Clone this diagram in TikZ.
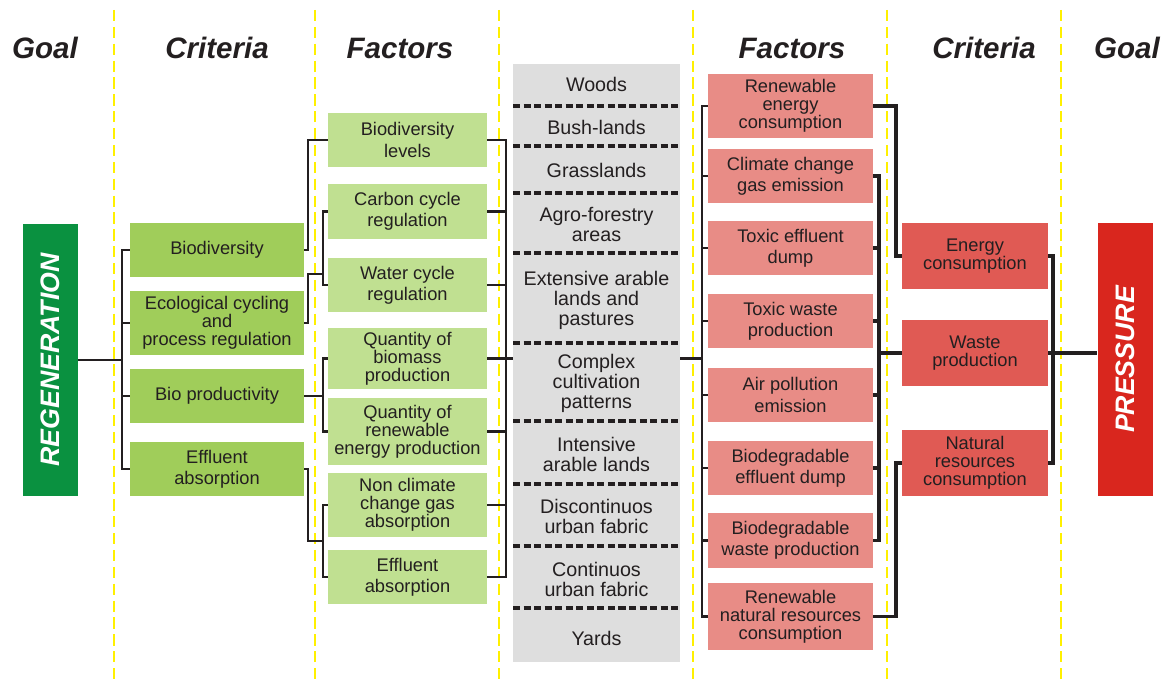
\documentclass[tikz,border=0pt]{standalone}
\usepackage{fontspec}
\setmainfont{Liberation Sans}
\usepackage{xcolor}
\usepackage{graphicx}
\usepackage{tikz}
\definecolor{goalgreen}{RGB}{10,145,64}
\definecolor{critgreen}{RGB}{160,205,90}
\definecolor{facgreen}{RGB}{192,224,145}
\definecolor{landgray}{RGB}{222,222,222}
\definecolor{facred}{RGB}{232,140,134}
\definecolor{critred}{RGB}{224,90,84}
\definecolor{goalred}{RGB}{217,38,30}
\definecolor{inkgray}{RGB}{35,31,32}
\definecolor{guideyellow}{RGB}{255,240,0}

\begin{document}
\begin{tikzpicture}[
    x=0.025cm, y=-0.025cm,
    every node/.style={inner sep=1pt, align=center, text=inkgray, font=\fontsize{13}{15}\selectfont},
    tight/.style={font=\fontsize{13}{12.8}\selectfont},
    head/.style={font=\fontsize{21}{24}\selectfont\bfseries\itshape},
    goal/.style={minimum width=1.375cm, minimum height=6.8cm, text=white, font=\fontsize{19}{22}\selectfont\bfseries\itshape},
    lcrit/.style={fill=critgreen, minimum width=4.35cm, minimum height=1.35cm},
    lfac/.style={fill=facgreen, minimum width=3.975cm, minimum height=1.35cm},
    land/.style={font=\fontsize{14}{14.2}\selectfont},
    rfac/.style={fill=facred, minimum width=4.125cm, minimum height=1.35cm},
    rcrit/.style={fill=critred, minimum width=3.65cm, minimum height=1.65cm},
    guide/.style={draw=guideyellow, line width=2pt, dash pattern=on 8pt off 4pt},
    sep/.style={draw=inkgray, line width=2.4pt, dash pattern=on 5pt off 2.5pt},
    link/.style={draw=inkgray, line width=1.8pt},
    tlink/.style={draw=inkgray, line width=2.6pt}
]
    \useasboundingbox (0,0) rectangle (1167,682);

    % Column guides
    \foreach \x in {114,315,499,693,887,1061}
        \draw[guide] (\x,10) -- (\x,682);

    % Headers
    \node[head] (hgoalL) at (45,48) {Goal};
    \node[head] (hcritL) at (217,48) {Criteria};
    \node[head] (hfacL) at (400,48) {Factors};
    \node[head] (hfacR) at (792,48) {Factors};
    \node[head] (hcritR) at (984,48) {Criteria};
    \node[head] (hgoalR) at (1127,48) {Goal};

    % Goals
    \node[goal, fill=goalgreen] (regen) at (50.5,360) {\rotatebox{90}{REGENERATION}};
    \node[goal, fill=goalred] (pressure) at (1125,359.5) {\rotatebox{90}{PRESSURE}};

    % Regeneration criteria
    \node[lcrit] (cbio) at (217,250) {Biodiversity};
    \node[lcrit, tight, minimum height=1.6cm] (ceco) at (217,323) {Ecological cycling\\and\\process regulation};
    \node[lcrit] (cprod) at (217,396) {Bio productivity};
    \node[lcrit] (ceff) at (217,469) {Effluent\\absorption};

    % Regeneration factors
    \node[lfac] (fbio) at (407.5,140) {Biodiversity\\levels};
    \node[lfac, minimum height=1.375cm] (fcarb) at (407.5,211.5) {Carbon cycle\\regulation};
    \node[lfac] (fwater) at (407.5,285) {Water cycle\\regulation};
    \node[lfac, tight, minimum height=1.525cm] (fmass) at (407.5,358.5) {Quantity of\\biomass\\production};
    \node[lfac, tight, minimum height=1.675cm] (fren) at (407.5,431.5) {Quantity of\\renewable\\energy production};
    \node[lfac, tight, minimum height=1.6cm] (fnoncl) at (407.5,505) {Non climate\\change gas\\absorption};
    \node[lfac] (feff) at (407.5,577) {Effluent\\absorption};

    % Land uses
    \node[fill=landgray, minimum width=4.175cm, minimum height=14.95cm] (landuse) at (596.5,363) {};
    \node[land] (lwoods) at (596.5,84) {Woods};
    \node[land] (lbush) at (596.5,127) {Bush-lands};
    \node[land] (lgrass) at (596.5,170) {Grasslands};
    \node[land] (lagro) at (596.5,224) {Agro-forestry\\areas};
    \node[land] (lext) at (596.5,300) {Extensive arable\\lands and\\pastures};
    \node[land] (lcompl) at (596.5,383) {Complex\\cultivation\\patterns};
    \node[land] (lint) at (596.5,454) {Intensive\\arable lands};
    \node[land] (ldisc) at (596.5,516) {Discontinuos\\urban fabric};
    \node[land] (lcont) at (596.5,579) {Continuos\\urban fabric};
    \node[land] (lyards) at (596.5,638) {Yards};
    \foreach \y in {106,146,193,253,343,421,484,546,608}
        \draw[sep] (513,\y) -- (680,\y);

    % Pressure factors
    \node[rfac, tight, minimum height=1.6cm] (rrenen) at (790.5,106) {Renewable\\energy\\consumption};
    \node[rfac] (rclim) at (790.5,176) {Climate change\\gas emission};
    \node[rfac] (rtoxe) at (790.5,248) {Toxic effluent\\dump};
    \node[rfac] (rtoxw) at (790.5,321) {Toxic waste\\production};
    \node[rfac] (rair) at (790.5,395) {Air pollution\\emission};
    \node[rfac] (rbioe) at (790.5,468) {Biodegradable\\effluent dump};
    \node[rfac, minimum height=1.375cm] (rbiow) at (790.5,540.5) {Biodegradable\\waste production};
    \node[rfac, tight, minimum height=1.675cm] (rrenat) at (790.5,616.5) {Renewable\\natural resources\\consumption};

    % Pressure criteria
    \node[rcrit, tight] (renergy) at (975,256) {Energy\\consumption};
    \node[rcrit, tight] (rwaste) at (975,353) {Waste\\production};
    \node[rcrit, tight] (rnatres) at (975,463) {Natural\\resources\\consumption};

    % Bus lines
    \coordinate (busA) at (122,0);
    \coordinate (busB) at (308,0);
    \coordinate (busC) at (323,0);
    \coordinate (busD) at (506,0);
    \coordinate (busE) at (702,0);
    \coordinate (busF) at (879,0);
    \coordinate (busG) at (896,0);
    \coordinate (busH) at (1053,0);
    \coordinate (jeco) at (323,274);
    \coordinate (jeff) at (323,541);

    % Regeneration side
    \draw[link] (regen.east) -- (regen.east -| busA);
    \draw[link] (cbio.west) -| (ceff.west -| busA) -- (ceff.west);
    \foreach \n in {ceco,cprod}
        \draw[link] (\n.west) -- (\n.west -| busA);
    \draw[link] (cbio.east) -| (fbio.west -| busB) -- (fbio.west);
    \draw[link] (ceco.east) -| (jeco -| busB) -- (jeco);
    \draw[link] (fcarb.west) -| (fwater.west -| busC) -- (fwater.west);
    \draw[link] (cprod.east) -- (cprod.east -| busC);
    \draw[link] (fmass.west) -| (fren.west -| busC) -- (fren.west);
    \draw[link] (ceff.east) -| (jeff -| busB) -- (jeff);
    \draw[link] (fnoncl.west) -| (feff.west -| busC) -- (feff.west);
    \draw[link] (fbio.east) -| (feff.east -| busD) -- (feff.east);
    \foreach \n in {fcarb,fwater,fmass,fren,fnoncl}
        \draw[link] (\n.east) -- (\n.east -| busD);
    \draw[link] (fmass.east -| busD) -- (landuse.west |- fmass.east);

    % Pressure side
    \draw[link] (landuse.east |- fmass.east) -- (fmass.east -| busE);
    \draw[link] (rrenen.west) -| (rrenat.west -| busE) -- (rrenat.west);
    \foreach \n in {rclim,rtoxe,rtoxw,rair,rbioe,rbiow}
        \draw[link] (\n.west) -- (\n.west -| busE);
    \draw[tlink] (rrenen.east) -| (renergy.west -| busG) -- (renergy.west);
    \draw[tlink] (rclim.east) -| (rbiow.east -| busF) -- (rbiow.east);
    \foreach \n in {rtoxe,rtoxw,rair,rbioe}
        \draw[tlink] (\n.east) -- (\n.east -| busF);
    \draw[tlink] (rwaste.west -| busF) -- (rwaste.west);
    \draw[tlink] (rrenat.east) -| (rnatres.west -| busG) -- (rnatres.west);
    \draw[tlink] (renergy.east) -| (rnatres.east -| busH) -- (rnatres.east);
    \draw[tlink] (rwaste.east) -- (pressure.west |- rwaste.east);
\end{tikzpicture}
\end{document}
